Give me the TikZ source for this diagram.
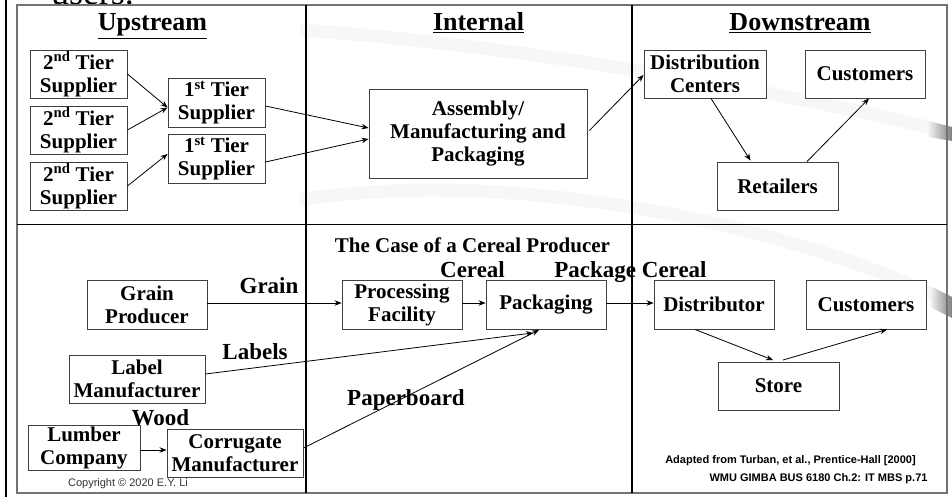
\documentclass[tikz,border=0pt]{standalone}
\usepackage{fontspec}
\setmainfont{Liberation Serif}
\setsansfont{Liberation Sans}
\usetikzlibrary{arrows.meta}
\begin{document}
\begin{tikzpicture}[x=1pt,y=-1pt,
  box/.style={draw=black!75, line width=0.9pt, fill=white, inner sep=0pt, align=center,
    font=\bfseries\fontsize{21}{23}\selectfont},
  arr/.style={-{Stealth[length=7pt,width=5.5pt]}, line width=0.8pt, black},
  lab/.style={font=\bfseries\fontsize{23}{25}\selectfont, anchor=base, inner sep=0pt},
  head/.style={font=\bfseries\fontsize{26}{28}\selectfont, anchor=base, inner sep=0pt},
  note/.style={font=\sffamily\bfseries\fontsize{11}{13}\selectfont, anchor=base, inner sep=0pt},
  frame/.style={draw=black!55, line width=1.8pt},
  divider/.style={draw=black, line width=1.5pt},
  swoosh/.style={draw=black!3, line width=13pt}]
\useasboundingbox (0,0) rectangle (952,497);
% faint background swooshes
\draw[swoosh] (300,30) .. controls (520,45) and (800,95) .. (940,130);
\draw[swoosh] (300,200) .. controls (520,165) and (800,230) .. (940,298);
\shade[left color=black!4, right color=black!50] (928,121) -- (952,127) -- (952,141) -- (928,137) -- cycle;
\shade[left color=black!4, right color=black!50] (930,286) -- (952,297) -- (952,318) -- (930,307) -- cycle;
\begin{scope}
\clip (0,0) rectangle (952,497);
\node[anchor=base, inner sep=0pt, font=\fontsize{36}{38}\selectfont] (users) at (92.5,4.5) {users.};
\end{scope}
% left bar and frame
\draw[line width=2pt] (5.5,0) -- (5.5,497);
\draw[frame] (17,5) rectangle (947,493);
\draw[divider] (17,224.5) -- (947,224.5);
\draw[divider] (306,5) -- (306,493);
\draw[divider] (632,5) -- (632,493);
% headings
\node[head] (hup) at (152.5,31) {\underline{Upstream}};
\node[head] (hin) at (478.5,31) {\underline{Internal}};
\node[head] (hdown) at (800,31) {\underline{Downstream}};
% top boxes
\node[box, minimum width=97pt, minimum height=48pt] (t2a) at (78.5,74) {2\textsuperscript{nd} Tier\\Supplier};
\node[box, minimum width=97pt, minimum height=48pt] (t2b) at (78.5,130) {2\textsuperscript{nd} Tier\\Supplier};
\node[box, minimum width=97pt, minimum height=48pt] (t2c) at (78.5,186) {2\textsuperscript{nd} Tier\\Supplier};
\node[box, minimum width=97pt, minimum height=49pt] (t1a) at (216.5,102.5) {1\textsuperscript{st} Tier\\Supplier};
\node[box, minimum width=97pt, minimum height=49pt] (t1b) at (216.5,158.5) {1\textsuperscript{st} Tier\\Supplier};
\node[box, minimum width=218pt, minimum height=89pt] (asm) at (478,133.5) {Assembly/\\Manufacturing and\\Packaging};
\node[box, minimum width=122pt, minimum height=48pt] (dc) at (705,74) {Distribution\\Centers};
\node[box, minimum width=120pt, minimum height=48pt] (cust1) at (865,74) {Customers};
\node[box, minimum width=121pt, minimum height=48pt] (ret) at (777.5,186) {Retailers};
% top arrows
\draw[arr] (t2a.east) -- ([yshift=-5pt]t1a.west);
\draw[arr] (t2b.east) -- ([yshift=-5pt]t1a.west);
\draw[arr] (t2c.east) -- ([yshift=4.5pt]t1b.west);
\draw[arr] ([yshift=-3.5pt]t1a.east) -- ([yshift=5.5pt]asm.west);
\draw[arr] ([yshift=-3.5pt]t1b.east) -- ([yshift=-5.5pt]asm.west);
\draw[arr] ([xshift=2pt,yshift=3pt]asm.east) -- ([yshift=-1pt]dc.west);
\draw[arr] ([xshift=6pt]dc.south) -- ([xshift=-27pt,yshift=1pt]ret.north);
\draw[arr] ([xshift=29.5pt]ret.north) -- ([xshift=4pt]cust1.south);
% bottom
\node[font=\bfseries\fontsize{21}{23}\selectfont, anchor=base, inner sep=0pt] (case) at (472.5,252) {The Case of a Cereal Producer};
\node[box, minimum width=120pt, minimum height=49pt] (grain) at (147,304.5) {Grain\\Producer};
\node[box, minimum width=120pt, minimum height=49pt] (proc) at (402,304.5) {Processing\\Facility};
\node[box, minimum width=120pt, minimum height=49pt] (pack) at (546,304.5) {Packaging};
\node[box, minimum width=120pt, minimum height=49pt] (dist) at (714,304.5) {Distributor};
\node[box, minimum width=120pt, minimum height=49pt] (cust2) at (866,304.5) {Customers};
\node[box, minimum width=121pt, minimum height=48pt] (store) at (778.5,386) {Store};
\node[box, minimum width=136pt, minimum height=48pt] (labm) at (137,379) {Label\\Manufacturer};
\node[box, minimum width=112pt, minimum height=45pt] (lumber) at (84,447.5) {Lumber\\Company};
\node[box, minimum width=136pt, minimum height=48pt] (corr) at (235,453) {Corrugate\\Manufacturer};
% labels
\node[lab] (lgrain) at (269,293) {Grain};
\node[lab] (lcereal) at (472.5,277) {Cereal};
\node[lab] (lpack) at (630.5,277) {Package Cereal};
\node[lab] (llabels) at (255,359) {Labels};
\node[lab] (lwood) at (160.5,425) {Wood};
\node[lab] (lpaper) at (406,405) {Paperboard};
% bottom arrows
\draw[arr] ([yshift=1.5pt]grain.east) -- ([yshift=1.5pt]proc.west);
\draw[arr] ([yshift=1.5pt]proc.east) -- ([yshift=1.5pt]pack.west);
\draw[arr] ([yshift=1.5pt]pack.east) -- ([yshift=1.5pt]dist.west);
\draw[arr] ([yshift=5pt]labm.east) -- ([xshift=-13pt,yshift=-3.5pt]pack.south);
\draw[arr] ([yshift=-2.5pt]lumber.east) -- ([yshift=3pt]corr.west);
\draw[arr] ([yshift=5pt]corr.east) -- ([xshift=-7pt,yshift=-0.5pt]pack.south);
\draw[arr] ([xshift=-19pt]dist.south) -- ([xshift=-5.5pt,yshift=1.5pt]store.north);
\draw[arr] ([xshift=4.5pt,yshift=1.5pt]store.north) -- ([xshift=21pt]cust2.south);
% notes
\node[anchor=base, inner sep=0pt, font=\sffamily\fontsize{11}{13}\selectfont, text=black!80] (copy) at (128,486) {Copyright © 2020 E.Y. Li};
\node[note] (adapt) at (790.5,463) {Adapted from Turban, et al., Prentice-Hall [2000]};
\node[note] (wmu) at (818.5,481) {WMU GIMBA BUS 6180 Ch.2: IT MBS p.71};
\end{tikzpicture}
\end{document}
